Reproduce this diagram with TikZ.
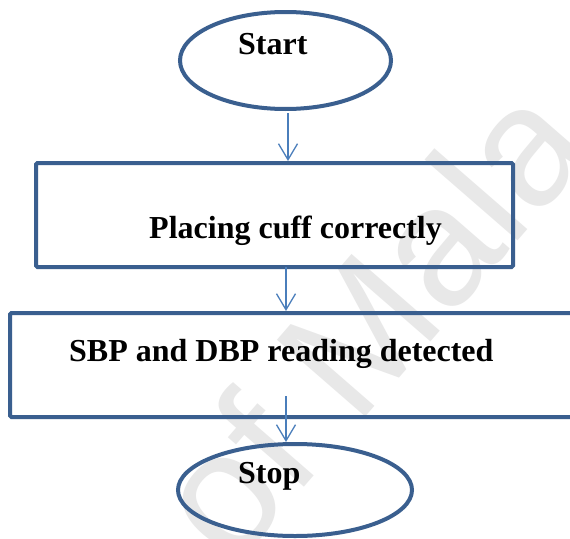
\documentclass[tikz,border=0pt]{standalone}
\usepackage{fontspec}
\setmainfont{Liberation Serif}
\newfontfamily\wmfont{Liberation Sans}
\usetikzlibrary{arrows.meta,shapes.geometric}
\definecolor{shapeblue}{HTML}{3A5F8F}
\definecolor{arrowblue}{HTML}{4A7EBB}
\definecolor{wmgray}{HTML}{E8E8E8}
\tikzset{
  term/.style={ellipse, draw=shapeblue, line width=4pt, inner sep=0pt},
  procbox/.style={rectangle, draw=shapeblue, line width=4pt, rounded corners=1.5pt, inner sep=0pt},
  lbl/.style={anchor=base west, inner sep=0pt, font=\fontsize{32}{36}\selectfont\bfseries},
  arr/.style={draw=arrowblue, line width=1.3pt, -{Straight Barb[length=16pt,width=19pt,line width=1.3pt]}},
}
\begin{document}
\begin{tikzpicture}[x=1pt,y=-1pt]
\clip (0,0) rectangle (570,538);
\fill[white] (0,0) rectangle (570,538);
% watermark
\node[anchor=base west, inner sep=0pt, rotate=49, text=wmgray, font=\fontsize{170}{170}\selectfont\wmfont] (wm) at (232,570) {of Mala};
% shapes
\node[term, minimum width=211pt, minimum height=97pt] (start) at (285.5,60.5) {};
\node[lbl] (startlbl) at (238,54) {Start};
\node[procbox, minimum width=477pt, minimum height=104pt] (box1) at (274.5,215) {};
\node[lbl] (box1lbl) at (149,238) {Placing cuff correctly};
\node[procbox, minimum width=580pt, minimum height=104pt] (box2) at (300,365) {};
\node[lbl] (box2lbl) at (69,361) {SBP and DBP reading detected};
\node[term, minimum width=234pt, minimum height=92pt] (stop) at (295,490) {};
\node[lbl] (stoplbl) at (238,483) {Stop};
% connectors
\coordinate (a1) at (288,113);
\coordinate (a2) at (286,267);
\coordinate (a3) at (286,396);
\draw[arr] (a1) -- (a1 |- box1.north);
\draw[arr] (a2) -- (a2 |- box2.north);
\draw[arr] (a3) -- (a3 |- stop.north);
\end{tikzpicture}
\end{document}
